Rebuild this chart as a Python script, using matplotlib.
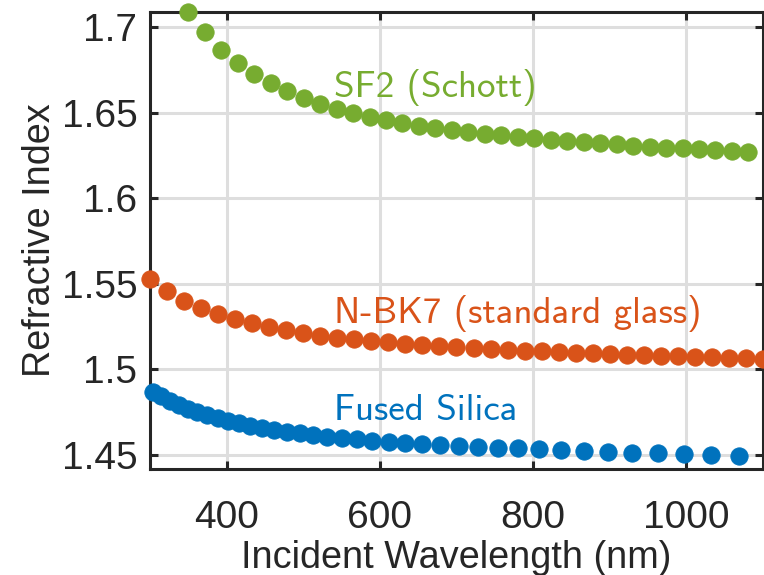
import matplotlib
matplotlib.use('Agg')
from matplotlib import pyplot as plt

# wavelengths (nm) and refractive index
silica_wl = [304.0, 314.8, 326.0, 337.6, 349.6, 362.0, 374.9, 388.2, 402.0, 416.3,
             431.1, 446.4, 462.3, 478.7, 495.7, 513.3, 531.5, 550.4, 570.0, 590.3,
             611.3, 633.0, 655.5, 678.8, 702.9, 727.9, 753.8, 780.6, 808.3, 837.0,
             866.8, 897.6, 929.5, 962.5, 996.7, 1032.1, 1068.8]
silica_n = [1.4866, 1.4843, 1.4816, 1.4792, 1.4771, 1.4750, 1.4732, 1.4716, 1.4699, 1.4685,
            1.4671, 1.4659, 1.4648, 1.4636, 1.4626, 1.4617, 1.4608, 1.4599, 1.4592, 1.4584,
            1.4577, 1.4571, 1.4564, 1.4558, 1.4553, 1.4547, 1.4543, 1.4538, 1.4533, 1.4528,
            1.4522, 1.4519, 1.4514, 1.4509, 1.4505, 1.4500, 1.4496]

bk7_wl = [300.0, 322.2, 344.4, 366.7, 388.9, 411.1, 433.3, 455.6, 477.8, 500.0,
          522.2, 544.4, 566.7, 588.9, 611.1, 633.3, 655.6, 677.8, 700.0, 722.2,
          744.4, 766.7, 788.9, 811.1, 833.3, 855.6, 877.8, 900.0, 922.2, 944.4,
          966.7, 988.9, 1011.1, 1033.3, 1055.6, 1077.8, 1100.0]
bk7_n = [1.5528, 1.5460, 1.5401, 1.5357, 1.5324, 1.5294, 1.5270, 1.5247, 1.5230, 1.5215,
         1.5196, 1.5182, 1.5176, 1.5168, 1.5158, 1.5151, 1.5143, 1.5136, 1.5130, 1.5124,
         1.5119, 1.5114, 1.5110, 1.5106, 1.5102, 1.5098, 1.5094, 1.5090, 1.5087, 1.5084,
         1.5080, 1.5077, 1.5074, 1.5071, 1.5068, 1.5065, 1.5062]

sf2_wl = [350.0, 371.5, 393.0, 414.5, 436.0, 457.5, 479.0, 500.5, 522.0, 543.5,
          565.0, 586.5, 608.0, 629.5, 651.0, 672.5, 694.0, 715.5, 737.0, 758.5,
          780.0, 801.5, 823.0, 844.5, 866.0, 887.5, 909.0, 930.5, 952.0, 973.5,
          995.0, 1016.5, 1038.0, 1059.5, 1081.0]
sf2_n = [1.7089, 1.6969, 1.6866, 1.6788, 1.6726, 1.6671, 1.6624, 1.6585, 1.6550, 1.6521,
         1.6496, 1.6476, 1.6457, 1.6440, 1.6424, 1.6410, 1.6398, 1.6387, 1.6377, 1.6367,
         1.6358, 1.6350, 1.6342, 1.6334, 1.6327, 1.6320, 1.6314, 1.6308, 1.6302, 1.6296,
         1.6291, 1.6286, 1.6281, 1.6276, 1.6271]

labels = ['Fused Silica', 'N-BK7 (standard glass)', 'SF2 (Schott)']
label_pos = [(540, 1.4704), (540, 1.5269), (540, 1.6593)]
colors = ['#0072BD', '#D95319', '#77AC30']

x_ticks = [400, 600, 800, 1000]
y_ticks = [1.45, 1.5, 1.55, 1.6, 1.65, 1.7]

plt.rcParams['font.family'] = ['Liberation Sans', 'DejaVu Sans']

fig = plt.figure(figsize=(7.64, 5.75), dpi=100)
ax = fig.add_axes([0.1963, 0.1843, 0.8024, 0.7948])

for wl, n, c in zip([silica_wl, bk7_wl, sf2_wl], [silica_n, bk7_n, sf2_n], colors):
    ax.plot(wl, n, 'o', color=c, markersize=12.5, markeredgewidth=0.6,
            markeredgecolor=c, clip_on=False, zorder=5)

for text, (tx, ty), c in zip(labels, label_pos, colors):
    ax.text(tx, ty, text, color=c, fontsize=26.7, va='baseline', ha='left',
            family=['cmss10', 'DejaVu Sans'])

ax.set_xlim(300, 1100)
ax.set_ylim(1.4418, 1.7088)
ax.set_xticks(x_ticks)
ax.set_yticks(y_ticks)
ax.set_yticklabels(['%g' % v for v in y_ticks])

ax.grid(True, color='#dedede', linewidth=2.2)
ax.set_axisbelow(True)
for s in ax.spines.values():
    s.set_linewidth(2.2)
    s.set_color('#262626')
    s.set_zorder(3)
ax.tick_params(direction='in', top=True, right=True, length=6, width=2.2,
               labelsize=28, colors='#262626')
ax.tick_params(axis='x', pad=22)
ax.tick_params(axis='y', pad=9)

ax.set_xlabel('Incident Wavelength (nm)', fontsize=27.3, color='#262626', labelpad=3)
ax.set_ylabel('Refractive Index', fontsize=27.3, color='#262626', labelpad=3)

fig.savefig('out.png', dpi=100)
